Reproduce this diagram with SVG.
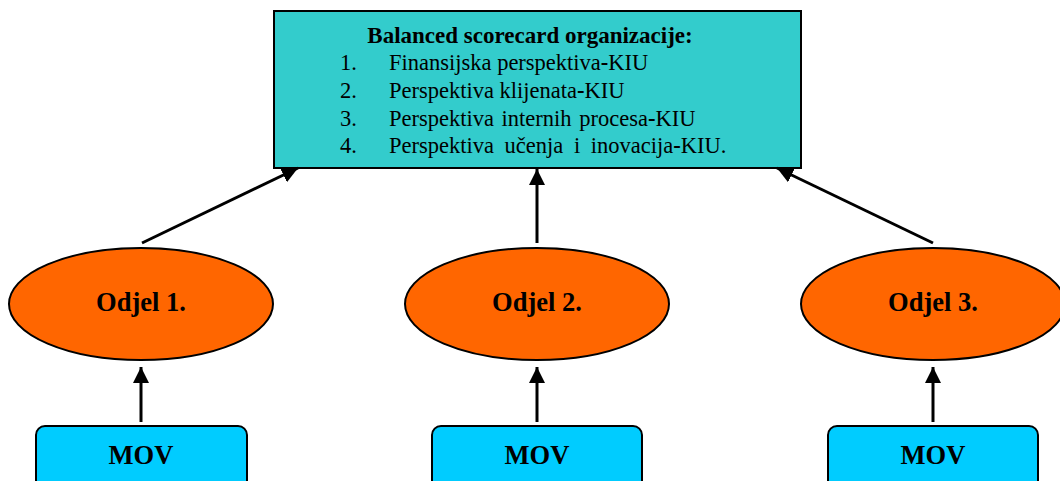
<svg xmlns="http://www.w3.org/2000/svg" width="1060" height="481" viewBox="0 0 1060 481">
<style>
text{font-family:"Liberation Serif","Times New Roman",serif;fill:#000}
.t{font-size:22.5px}
.h{font-size:23px;font-weight:bold}
.b{font-weight:bold}
.c{text-anchor:middle}
.n{font-size:26.5px;font-weight:bold;text-anchor:middle}
.ell{fill:#FF6600;stroke:#000;stroke-width:2}
.mov{fill:#00CCFF;stroke:#000;stroke-width:2}
.con{stroke:#000;stroke-width:3;fill:none;marker-end:url(#ah)}
</style>
<defs>
<marker id="ah" viewBox="0 0 10 10" refX="10" refY="5" markerWidth="5.4" markerHeight="5.4" orient="auto" markerUnits="strokeWidth">
<path d="M0,0 L10,5 L0,10 Z" fill="#000"/>
</marker>
</defs>
<g id="bsc">
<rect x="274" y="11" width="527" height="157" fill="#33CCCC" stroke="#000" stroke-width="2"/>
<text class="h c" x="530" y="43">Balanced scorecard organizacije:</text>
<text class="t" x="340" y="70">1.</text><text class="t" x="389" y="70">Finansijska perspektiva<tspan class="b">-</tspan>KIU</text>
<text class="t" x="340" y="98">2.</text><text class="t" x="389" y="98">Perspektiva klijenata<tspan class="b">-</tspan>KIU</text>
<text class="t" x="340" y="126">3.</text><text class="t" x="389" y="126" word-spacing="2">Perspektiva internih procesa<tspan class="b">-</tspan>KIU</text>
<text class="t" x="340" y="153">4.</text><text class="t" x="389" y="153" word-spacing="5">Perspektiva učenja i inovacija<tspan class="b">-</tspan>KIU.</text>
</g>
<g id="odjel1"><ellipse class="ell" cx="141" cy="304" rx="132" ry="56"/><text class="n" x="141" y="311">Odjel 1.</text></g>
<g id="odjel2"><ellipse class="ell" cx="537" cy="304" rx="132" ry="56"/><text class="n" x="537" y="311">Odjel 2.</text></g>
<g id="odjel3"><ellipse class="ell" cx="933" cy="304" rx="132" ry="56"/><text class="n" x="933" y="311">Odjel 3.</text></g>
<g id="mov1"><rect class="mov" x="36" y="426" width="211" height="70" rx="9"/><text class="n" x="141" y="464">MOV</text></g>
<g id="mov2"><rect class="mov" x="432" y="426" width="210" height="70" rx="9"/><text class="n" x="537" y="464">MOV</text></g>
<g id="mov3"><rect class="mov" x="828" y="426" width="210" height="70" rx="9"/><text class="n" x="933" y="464">MOV</text></g>
<g id="connectors">
<line class="con" x1="142" y1="243" x2="298" y2="168"/>
<line class="con" x1="537" y1="243" x2="537" y2="169"/>
<line class="con" x1="933" y1="243" x2="777" y2="168"/>
<line class="con" x1="141" y1="422" x2="141" y2="367"/>
<line class="con" x1="537" y1="422" x2="537" y2="367"/>
<line class="con" x1="933" y1="422" x2="933" y2="367"/>
</g>
</svg>
